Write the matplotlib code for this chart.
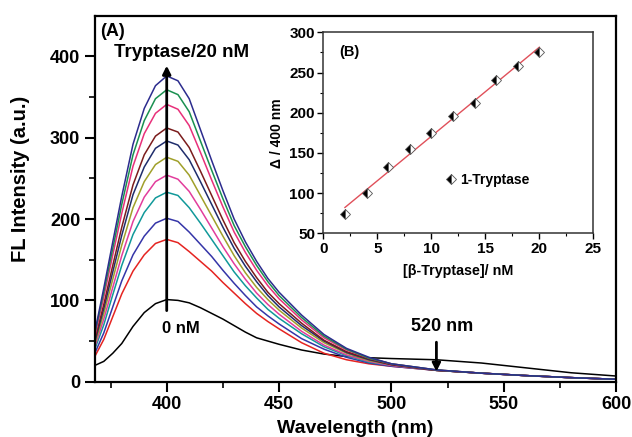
import numpy as np
import matplotlib.pyplot as plt

plt.rcParams['font.family'] = ['Liberation Sans', 'DejaVu Sans']
plt.rcParams['font.weight'] = 'bold'

# emission spectra
wl = [368, 372, 376, 380, 385, 390, 395, 400, 405, 410, 415, 420, 425, 430,
      435, 440, 445, 450, 460, 470, 480, 490, 500, 520, 540, 560, 580, 600]

c0 = [20, 25, 35, 47, 68, 85, 96, 101, 100, 97, 91, 84, 77, 69,
      61, 54, 50, 46, 39, 34, 31, 29.5, 28.5, 27, 23, 17, 11, 7]
c2 = [31, 52, 80, 108, 136, 156, 170, 175, 171, 160, 148, 136, 122, 109,
      96, 84, 74, 65, 48, 35, 27, 22, 19, 14, 10.5, 7.5, 5, 3]
c4 = [35, 60, 92, 124, 156, 179, 195, 201, 197, 184, 169, 154, 137, 121,
      106, 92, 81, 71, 53, 40, 30, 23, 19, 14, 10.5, 7.5, 5, 3]
c6 = [40, 70, 107, 143, 181, 208, 226, 233, 229, 214, 195, 175, 155, 135,
      118, 103, 89, 78, 59, 43, 32, 24, 20, 14, 10.5, 7.5, 5, 3]
c8 = [43, 77, 116, 155, 197, 227, 246, 254, 249, 234, 212, 189, 166, 145,
      126, 109, 95, 83, 62, 45, 33, 25, 20, 14, 10.5, 7.5, 5, 3]
c10 = [46, 84, 126, 168, 214, 246, 267, 276, 271, 254, 229, 204, 179, 155,
       134, 116, 101, 88, 66, 48, 35, 26, 21, 14, 10.5, 7.5, 5, 3]
c12 = [49, 90, 135, 180, 230, 264, 287, 296, 291, 273, 246, 218, 190, 164,
       142, 123, 106, 92, 69, 50, 36, 27, 21, 14, 10.5, 7.5, 5, 3]
c14 = [52, 95, 143, 190, 242, 279, 302, 312, 307, 288, 259, 229, 199, 171,
       148, 128, 110, 96, 72, 51, 37, 28, 21, 14, 10.5, 7.5, 5, 3]
c16 = [56, 104, 156, 207, 265, 305, 330, 341, 335, 315, 282, 248, 215, 184,
       159, 137, 118, 102, 76, 54, 39, 29, 22, 14.5, 10.5, 7.5, 5, 3]
c18 = [59, 110, 164, 218, 279, 321, 348, 359, 353, 332, 296, 260, 225, 192,
       166, 143, 123, 106, 79, 56, 40, 29, 22, 14.5, 10.5, 7.5, 5, 3]
c20 = [61, 115, 172, 228, 292, 336, 364, 376, 370, 348, 310, 272, 235, 200,
       172, 148, 127, 110, 82, 58, 41, 30, 22, 14.5, 10.5, 7.5, 5, 3]

spectra = [c0, c2, c4, c6, c8, c10, c12, c14, c16, c18, c20]
colors = ['black', '#e52421', '#3535a8', '#11999a', '#e23d9c', '#a0a02a',
          '#1f2d6c', '#7b1c1c', '#e8307a', '#1a9050', '#2c2c8e']

# inset: linear calibration
conc = [2, 4, 6, 8, 10, 12, 14, 16, 18, 20]
delta = [73.6, 100.1, 132.9, 154.5, 175.1, 195.9, 212.4, 240.3, 258.5, 275.1]

fig = plt.figure(figsize=(6.32, 4.37), dpi=100)
ax = fig.add_axes([0.150, 0.1265, 0.825, 0.8375])

for y, c in zip(spectra, colors):
    ax.plot(wl, y, color=c, lw=1.1)

ax.set_xlim(368, 600)
ax.set_ylim(0, 450)
ax.set_xticks([400, 450, 500, 550, 600])
ax.set_xticks([375, 425, 475, 525, 575], minor=True)
ax.set_yticks([0, 100, 200, 300, 400])
ax.set_yticks([50, 150, 250, 350], minor=True)
ax.tick_params(which='major', direction='out', length=7, width=1.5, labelsize=13)
ax.tick_params(which='minor', direction='out', length=4, width=1.2)
for s in ax.spines.values():
    s.set_linewidth(1.6)
ax.set_xlabel('Wavelength (nm)', fontsize=14, fontweight='bold')
ax.set_ylabel('FL Intensity (a.u.)', fontsize=14.5, fontweight='bold')
ax.xaxis.set_label_coords(0.5, -0.105)
ax.yaxis.set_label_coords(-0.125, 0.555)

ax.annotate('', xy=(400, 392), xytext=(400, 84),
            arrowprops=dict(arrowstyle='-|>', color='black', lw=2, mutation_scale=12))
ax.text(406.5, 405, 'Tryptase/20 nM', fontsize=13.5, fontweight='bold', ha='center', va='center')
ax.text(398, 66, '0 nM', fontsize=12, fontweight='bold', ha='left', va='center')
ax.text(370.5, 430, '(A)', fontsize=13, fontweight='bold', ha='left', va='center')
ax.annotate('', xy=(520, 9), xytext=(520, 52),
            arrowprops=dict(arrowstyle='-|>', color='black', lw=2, mutation_scale=12))
ax.text(522.5, 68, '520 nm', fontsize=13, fontweight='bold', ha='center', va='center')

# inset
ins = fig.add_axes([0.5116, 0.466, 0.4272, 0.460])
k, b = np.polyfit(conc, delta, 1)
xf = np.array([conc[0], conc[-1]])
ins.plot(xf, k * xf + b, color='#e0505a', lw=1)
ins.plot(conc, delta, ls='none', marker='D', ms=4.8, fillstyle='left',
         markerfacecolor='black', markerfacecoloralt='white',
         markeredgecolor='#555555', markeredgewidth=0.6, label='1-Tryptase')
ins.set_xlim(0, 25)
ins.set_ylim(50, 300)
ins.set_xticks([0, 5, 10, 15, 20, 25])
ins.set_xticks([2.5, 7.5, 12.5, 17.5, 22.5], minor=True)
ins.set_yticks([50, 100, 150, 200, 250, 300])
ins.set_yticks([75, 125, 175, 225, 275], minor=True)
ins.tick_params(which='major', direction='out', length=4, width=1, labelsize=11, pad=2)
ins.tick_params(which='minor', direction='out', length=2, width=0.8)
for s in ins.spines.values():
    s.set_linewidth(1.1)
    s.set_color('#333333')
ins.set_xlabel('[β-Tryptase]/ nM', fontsize=10.3, fontweight='bold', labelpad=6)
ins.set_ylabel('Δ / 400 nm', fontsize=10, fontweight='bold', labelpad=4)
ins.text(1.45, 276, '(B)', fontsize=10.5, fontweight='bold', ha='left', va='center')
ins.legend(loc='center left', bbox_to_anchor=(0.42, 0.265), frameon=False,
           fontsize=10, handletextpad=0.2, borderpad=0, handlelength=1)

fig.savefig('out.png', dpi=100)
